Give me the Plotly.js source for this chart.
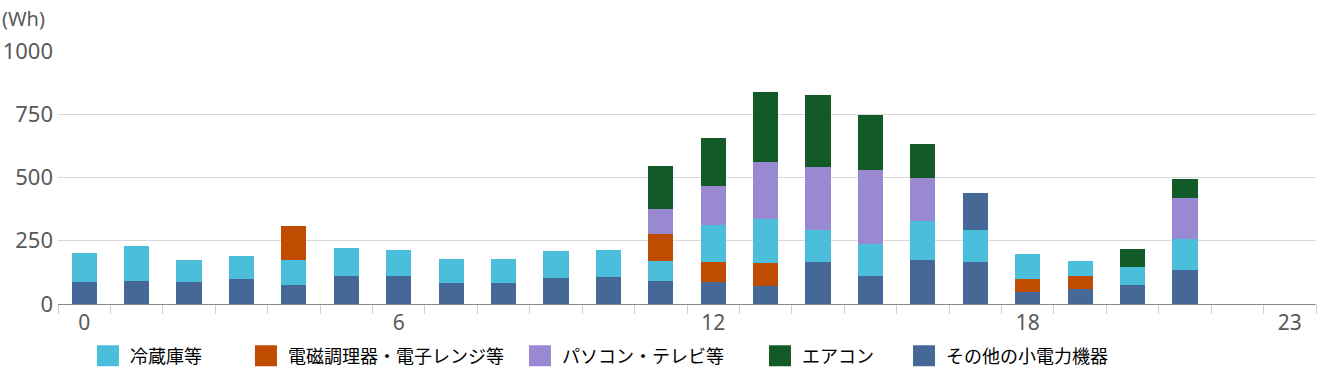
<!DOCTYPE html>
<html>
<head>
<meta charset="utf-8">
<script src="https://cdn.plot.ly/plotly-3.0.1.min.js"></script>
<style>html,body{margin:0;padding:0;background:#fff;}#chart{width:1331px;height:380px;}</style>
</head>
<body>
<div id="chart"></div>
<script>
// hours (categories)
const hours = ['0','1','2','3','4','5','6','7','8','9','10','11','12','13','14','15','16','17','18','19','20','21','22','23'];
const tickLabels = ['0','','','','','','6','','','','','','12','','','','','','18','','','','','23'];

// series values (Wh), stacked bottom -> top in this order
const otherLow   = [88,92,88,100,76,112,112,83,83,103,107,91,87,71,166,111,174,166,47,59,75,134,0,0];   // その他の小電力機器
const cookingLow = [0,0,0,0,0,0,0,0,0,0,0,0,79,91,0,0,0,0,52,52,0,0,0,0];                                // 電磁調理器・電子レンジ等
const fridge     = [115,138,87,91,99,110,102,96,96,107,107,79,146,174,126,126,154,126,99,59,71,123,0,0]; // 冷蔵庫等
const cookingUp  = [0,0,0,0,134,0,0,0,0,0,0,107,0,0,0,0,0,0,0,0,0,0,0,0];                                // 電磁調理器・電子レンジ等
const pcTv       = [0,0,0,0,0,0,0,0,0,0,0,98,154,225,249,293,170,0,0,0,0,162,0,0];                       // パソコン・テレビ等
const aircon     = [0,0,0,0,0,0,0,0,0,0,0,170,190,277,285,217,134,0,0,0,71,75,0,0];                      // エアコン
const otherUp    = [0,0,0,0,0,0,0,0,0,0,0,0,0,0,0,0,0,147,0,0,0,0,0,0];                                  // その他の小電力機器

const names = ['冷蔵庫等','電磁調理器・電子レンジ等','パソコン・テレビ等','エアコン','その他の小電力機器'];
const colors = {fridge:'#4ABEDA', cooking:'#BF4C00', pc:'#9988D2', ac:'#135A29', other:'#466897'};

function bar(y, name, color, legend, show) {
  return {type:'bar', x:hours, y:y, name:name, marker:{color:color, line:{width:0}},
          legend:legend, showlegend:show, hoverinfo:'skip'};
}

const data = [
  bar(otherLow,   names[4], colors.other,   'legend5', true),
  bar(cookingLow, names[1], colors.cooking, 'legend2', true),
  bar(fridge,     names[0], colors.fridge,  'legend',  true),
  bar(cookingUp,  names[1], colors.cooking, 'legend2', false),
  bar(pcTv,       names[2], colors.pc,      'legend3', true),
  bar(aircon,     names[3], colors.ac,      'legend4', true),
  bar(otherUp,    names[4], colors.other,   'legend5', false)
];

const legendFont = {family:'"Noto Sans CJK JP", "Noto Sans", sans-serif', size:18, color:'#000000'};
function leg(x) {
  return {x:x, y:-0.2055, xanchor:'left', yanchor:'middle', orientation:'h',
          bgcolor:'rgba(0,0,0,0)', borderwidth:0, font:legendFont};
}

const layout = {
  width:1331, height:380,
  margin:{l:58, r:15, t:51, b:76, autoexpand:false},
  paper_bgcolor:'#ffffff', plot_bgcolor:'#ffffff',
  barmode:'stack', bargap:0.52,
  font:{family:'"Noto Sans", sans-serif', color:'#595959'},
  xaxis:{type:'category', tickmode:'array', tickvals:hours, ticktext:tickLabels,
         tickson:'boundaries', ticks:'outside', ticklen:9, tickcolor:'#C6CFDB', tickwidth:1,
         showline:true, linecolor:'#898989', linewidth:1, showgrid:false, automargin:false,
         tickfont:{size:21, color:'#595959'}, fixedrange:true},
  yaxis:{range:[0,1000], tickvals:[0,250,500,750,1000], showgrid:true, gridcolor:'#D9D9D9', gridwidth:1,
         zeroline:false, showline:false, ticks:'', ticklabelstandoff:4, automargin:false,
         tickfont:{size:22, color:'#595959'}, fixedrange:true},
  legend:leg(0.0254), legend2:leg(0.1510), legend3:leg(0.3688), legend4:leg(0.5596), legend5:leg(0.6741),
  annotations:[{text:'(Wh)', xref:'paper', yref:'paper', x:-0.0461, y:1.130, xanchor:'left', yanchor:'middle',
                showarrow:false, font:{size:20, color:'#595959'}}]
};

Plotly.newPlot('chart', data, layout, {staticPlot:true, displayModeBar:false}).then(function(gd){
  gd.querySelectorAll('g.legendpoints path').forEach(function(p){
    p.setAttribute('d','M9,10.5H-13V-10.5H9Z');
  });
});
</script>
</body>
</html>
